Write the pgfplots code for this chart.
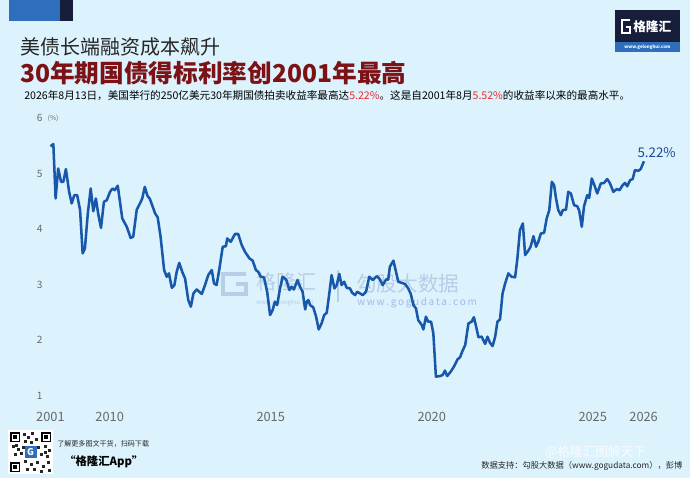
\documentclass[border=0pt]{standalone}
\usepackage{fontspec}
\setmainfont{Noto Sans CJK SC}
\usepackage{pgfplots}
\pgfplotsset{compat=1.18}
\definecolor{bg}{RGB}{220,242,253}
\definecolor{linecol}{RGB}{24,88,170}
\definecolor{titlered}{RGB}{125,18,22}
\definecolor{numred}{RGB}{232,48,48}
\definecolor{tickgray}{RGB}{105,105,105}
\definecolor{navy}{RGB}{22,30,58}
\definecolor{logoblue}{RGB}{46,110,188}
\definecolor{wm}{RGB}{182,206,230}
\definecolor{lblblue}{RGB}{26,72,150}

\pgfplotstableread{
x y
2008.16 5.49
2008.25 5.53
2008.32 4.55
2008.40 5.09
2008.49 4.85
2008.56 4.85
2008.64 5.08
2008.74 4.67
2008.82 4.46
2008.90 4.61
2008.99 4.61
2009.08 4.34
2009.16 3.56
2009.23 3.65
2009.32 4.28
2009.41 4.73
2009.49 4.32
2009.57 4.55
2009.65 4.25
2009.73 4.02
2009.82 4.49
2009.91 4.52
2010.01 4.67
2010.09 4.73
2010.16 4.70
2010.25 4.78
2010.39 4.19
2010.53 4.04
2010.65 3.84
2010.73 3.86
2010.84 4.35
2010.94 4.46
2011.01 4.55
2011.09 4.76
2011.17 4.60
2011.25 4.54
2011.41 4.28
2011.49 4.21
2011.58 3.86
2011.69 3.26
2011.77 3.14
2011.84 3.20
2011.93 2.94
2012.01 2.99
2012.08 3.23
2012.16 3.39
2012.25 3.23
2012.34 3.11
2012.44 2.72
2012.52 2.60
2012.60 2.84
2012.70 2.91
2012.78 2.87
2012.86 2.83
2012.96 2.99
2013.06 3.17
2013.17 3.26
2013.24 3.02
2013.32 2.99
2013.40 3.26
2013.51 3.68
2013.61 3.69
2013.65 3.83
2013.76 3.77
2013.89 3.91
2013.99 3.91
2014.10 3.71
2014.20 3.59
2014.34 3.47
2014.44 3.43
2014.54 3.26
2014.61 3.23
2014.69 3.14
2014.79 3.13
2014.89 2.87
2014.98 2.45
2015.06 2.54
2015.13 2.69
2015.20 2.63
2015.29 2.93
2015.37 3.14
2015.48 3.09
2015.58 2.90
2015.65 2.96
2015.72 2.91
2015.83 3.08
2015.91 2.96
2015.99 2.87
2016.07 2.55
2016.12 2.69
2016.17 2.72
2016.22 2.63
2016.32 2.59
2016.41 2.42
2016.49 2.19
2016.58 2.30
2016.66 2.45
2016.74 2.49
2016.82 2.84
2016.89 3.17
2016.98 2.93
2017.05 2.99
2017.13 3.19
2017.20 2.99
2017.28 3.05
2017.36 2.94
2017.46 2.93
2017.53 2.85
2017.62 2.81
2017.69 2.87
2017.77 2.84
2017.86 2.81
2017.96 2.87
2018.06 3.14
2018.17 3.08
2018.29 3.15
2018.37 3.11
2018.48 2.99
2018.58 3.09
2018.65 3.09
2018.70 3.32
2018.81 3.43
2018.89 3.23
2018.96 3.05
2019.07 3.03
2019.17 3.01
2019.27 2.93
2019.35 2.83
2019.43 2.63
2019.51 2.57
2019.58 2.36
2019.69 2.27
2019.74 2.19
2019.82 2.42
2019.89 2.33
2019.98 2.33
2020.05 2.12
2020.13 1.34
2020.26 1.35
2020.34 1.37
2020.41 1.45
2020.48 1.35
2020.59 1.43
2020.69 1.52
2020.80 1.65
2020.88 1.69
2020.96 1.81
2021.04 1.91
2021.14 2.30
2021.24 2.33
2021.31 2.41
2021.38 2.24
2021.45 2.05
2021.55 2.06
2021.66 1.93
2021.73 2.06
2021.81 1.95
2021.89 1.89
2021.97 2.06
2022.04 2.33
2022.12 2.37
2022.20 2.84
2022.28 3.02
2022.38 3.20
2022.48 3.14
2022.59 3.13
2022.66 3.47
2022.74 3.98
2022.83 4.10
2022.90 3.53
2023.00 3.61
2023.07 3.68
2023.16 3.87
2023.24 3.68
2023.31 3.77
2023.39 3.92
2023.49 3.93
2023.57 4.19
2023.65 4.34
2023.73 4.85
2023.80 4.79
2023.86 4.55
2023.93 4.34
2024.01 4.25
2024.07 4.34
2024.17 4.35
2024.24 4.67
2024.32 4.64
2024.42 4.43
2024.52 4.41
2024.58 4.33
2024.66 4.04
2024.73 4.41
2024.83 4.61
2024.89 4.56
2024.97 4.91
2025.07 4.76
2025.14 4.64
2025.25 4.82
2025.35 4.83
2025.45 4.90
2025.53 4.83
2025.64 4.67
2025.75 4.72
2025.83 4.70
2025.93 4.79
2026.00 4.83
2026.07 4.77
2026.16 4.88
2026.24 4.90
2026.31 5.06
2026.42 5.05
2026.49 5.08
2026.59 5.22
}\yields

\begin{document}
\begin{tikzpicture}
\useasboundingbox (0,0) rectangle (517.5pt,-358.5pt);
\fill[bg] (0,0) rectangle (517.5pt,-358.5pt);
\begin{scope}[x=0.75pt,y=-0.75pt]
  % top-left decoration
  \fill[logoblue] (9,0) rectangle (59.5,21);
  \fill[navy] (59.5,0) rectangle (73,21);
  % logo top-right
  \fill[navy] (615,10) rectangle (680,42);
  \fill[logoblue] (615,42) rectangle (680,52);
  \draw[white, line width=1.6pt] (630,20) -- (622,20) -- (622,33) -- (630,33) -- (630,27) -- (626,27);
  \node[anchor=west, inner sep=0pt, text=white, font=\fontsize{9.5}{10}\selectfont\bfseries] at (633,26.5) {格隆汇};
  \node[anchor=center, inner sep=0pt, text=white, font=\fontsize{3.3}{4}\selectfont\bfseries] at (647.5,47) {www.gelonghui.com};
  % titles
  \node[anchor=west, inner sep=0pt, text=black!85, font=\fontsize{15}{17}\selectfont] at (20,46.7) {美债长端融资成本飙升};
  \node[anchor=west, inner sep=0pt, text=titlered, font=\fontsize{18.5}{20}\selectfont\bfseries] at (20,73) {30年期国债得标利率创2001年最高};
  \node[anchor=west, inner sep=0pt, text=black, font=\fontsize{7.95}{9}\selectfont] at (24,95.5) {2026年8月13日，美国举行的250亿美元30年期国债拍卖收益率最高达\textcolor{numred}{5.22\%}。这是自2001年8月\textcolor{numred}{5.52\%}的收益率以来的最高水平。};
  % unit
  \node[anchor=west, inner sep=0pt, text=tickgray, font=\fontsize{5}{6}\selectfont] at (47.5,118.3) {(\%)};
  % watermarks
  \draw[wm, line width=3.2pt] (246,274) -- (223,274) -- (223,294) -- (246,294) -- (246,284) -- (236,284);
  \node[anchor=west, inner sep=0pt, text=wm, font=\fontsize{15}{16}\selectfont] at (256,282) {格隆汇};
  \node[anchor=west, inner sep=0pt, text=wm, font=\fontsize{4.5}{5}\selectfont] at (256,303) {www.gelonghui.com};
  \draw[wm, line width=0.8pt] (338,270) -- (338,302);
  \node[anchor=west, inner sep=0pt, text=wm, font=\fontsize{15.5}{16}\selectfont] at (356,284) {勾股大数据};
  \node[anchor=west, inner sep=0pt, text=wm!90!blue, font=\fontsize{7.5}{8}\selectfont] at (357,303) {w\,w\,w\,.\,g\,o\,g\,u\,d\,a\,t\,a\,.\,c\,o\,m};
  % QR code block
  \fill[white] (8,430) rectangle (53,474);
  \foreach \a/\b in {10/432,41/432,10/462}{
    \fill[black] (\a,\b) rectangle ++(10,10);
    \fill[white] (\a+1.5,\b+1.5) rectangle ++(7,7);
    \fill[black] (\a+3,\b+3) rectangle ++(4,4);
  }
  \foreach \a/\b in {23/433,27/436,31/432,35/438,24/440,30/441,12/445,17/448,22/446,37/446,44/445,48/449,14/453,20/452,40/453,46/455,24/460,30/463,36/461,42/465,47/461,26/468,33/468,40/470,48/469,15/444,44/451}{
    \fill[black!85] (\a,\b) rectangle ++(3,3);
  }
  \fill[logoblue] (24.5,446) rectangle (36.5,458);
  \node[text=white, inner sep=0pt, font=\fontsize{7}{8}\selectfont\bfseries] at (30.5,452) {G};
  \node[anchor=west, inner sep=0pt, text=black!85, font=\fontsize{5.3}{6}\selectfont\itshape] at (57,444) {了解更多图文干货，扫码下载};
  \node[anchor=west, inner sep=0pt, text=black, font=\fontsize{8.5}{10}\selectfont\bfseries\itshape] at (64,461.7) {“格隆汇App”};
  % source
  \node[anchor=west, inner sep=0pt, text=black!85, font=\fontsize{6.2}{7}\selectfont] at (481,466) {数据支持：勾股大数据（www.gogudata.com），彭博};
\end{scope}
\begin{axis}[
  at={(33.975pt,-296.625pt)}, anchor=south west,
  scale only axis, width=454.05pt, height=208.125pt,
  xmin=2008, xmax=2026.8, ymin=1, ymax=6,
  axis line style={draw=none}, major tick length=0pt,
  xtick={2008.16,2010,2015,2020,2025,2026.58},
  xticklabels={2001,2010,2015,2020,2025,2026},
  ytick={1,2,3,4,5,6},
  /pgf/number format/assume math mode=true,
  xticklabel style={anchor=center, yshift=-16.1pt, text=tickgray, font=\fontsize{9.6}{10}\selectfont},
  yticklabel style={anchor=center, xshift=-4.2pt, text=tickgray, font=\fontsize{7.6}{8}\selectfont},
  clip=false,
]
\addplot[color=linecol, line width=1.9pt, line join=round, no markers] table[x=x, y=y] {\yields};
\node[text=lblblue, font=\fontsize{10}{11}\selectfont, inner sep=0pt] at (axis cs:2026.59,5.22) [xshift=9.5pt, yshift=6.2pt] {5.22\%};
\end{axis}
\begin{scope}[x=0.75pt,y=-0.75pt]
  \node[anchor=west, inner sep=0pt, text=white, opacity=0.8, font=\fontsize{9.5}{11}\selectfont] at (545,452) {@格隆汇图解天下};
\end{scope}
\end{tikzpicture}
\end{document}
